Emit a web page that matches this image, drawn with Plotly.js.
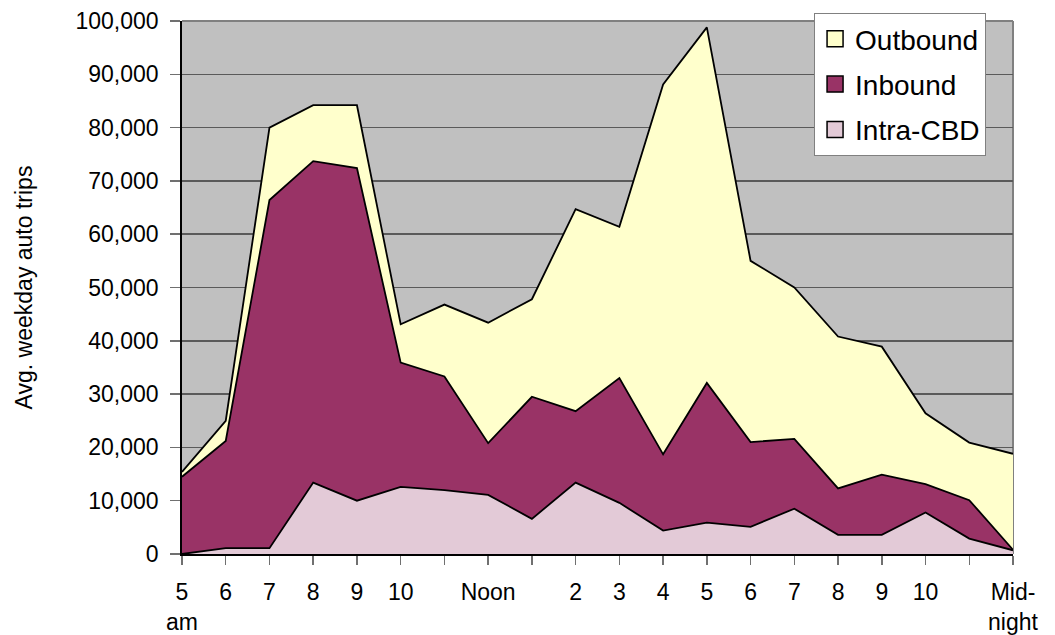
<!DOCTYPE html>
<html>
<head>
<meta charset="utf-8">
<script src="https://cdn.plot.ly/plotly-3.0.1.min.js"></script>
<style>
html,body{margin:0;padding:0;background:#fff;}
#chart{width:1055px;height:635px;}
</style>
</head>
<body>
<div id="chart"></div>
<script>
// Hour categories (5am .. midnight)
const hours = ['5am','6am','7am','8am','9am','10am','11am','12pm','1pm','2pm','3pm','4pm','5pm','6pm','7pm','8pm','9pm','10pm','11pm','12am'];
const tickLabels = ['5<br>am','6','7','8','9','10','','Noon','','2','3','4','5','6','7','8','9','10','','Mid-<br>night'];

// Average weekday auto trips by series (stacked)
const intraCBD = [0, 1100, 1100, 13400, 10000, 12600, 12000, 11100, 6600, 13400, 9600, 4400, 5900, 5100, 8500, 3600, 3600, 7800, 2900, 700];
const inbound  = [14500, 20100, 65300, 60300, 62400, 23300, 21300, 9700, 22900, 13400, 23400, 14300, 26200, 15900, 13100, 8700, 11300, 5300, 7200, 100];
const outbound = [900, 3800, 13600, 10500, 11800, 7200, 13500, 22600, 18300, 37900, 28400, 69400, 66700, 34000, 28400, 28500, 24000, 13300, 10800, 18000];

const seriesNames = ['Intra-CBD','Inbound','Outbound'];
const seriesColors = ['#E3CAD7','#993366','#FFFFCC'];
const legendRanks = [3, 2, 1];
const seriesData = [intraCBD, inbound, outbound];

const FONT = 'Liberation Sans, Arial, sans-serif';

const traces = [];
seriesData.forEach((vals, i) => {
  traces.push({
    type: 'scatter',
    mode: 'lines',
    x: hours,
    y: vals,
    name: seriesNames[i],
    stackgroup: 'one',
    fill: i === 0 ? 'tozeroy' : 'tonexty',
    fillcolor: seriesColors[i],
    line: {color: '#000000', width: 1.8},
    showlegend: false,
    hoverinfo: 'skip'
  });
});
// Legend entries with square swatches
seriesData.forEach((vals, i) => {
  traces.push({
    type: 'scatter',
    mode: 'markers',
    x: [null],
    y: [null],
    name: seriesNames[i],
    legendgroup: 'g' + i,
    legendrank: legendRanks[i],
    marker: {symbol: 'square', size: 18, color: seriesColors[i], line: {color: '#000', width: 1.5}},
    showlegend: true,
    hoverinfo: 'skip'
  });
});

const layout = {
  width: 1055,
  height: 635,
  margin: {l: 182, r: 42, t: 21, b: 81},
  paper_bgcolor: '#ffffff',
  plot_bgcolor: '#C0C0C0',
  font: {family: FONT, size: 23, color: '#000'},
  showlegend: true,
  legend: {
    x: 0.7606, xanchor: 'left',
    y: 1.015, yanchor: 'top',
    bgcolor: '#ffffff',
    bordercolor: '#808080',
    borderwidth: 1,
    font: {family: FONT, size: 28, color: '#000'},
    traceorder: 'grouped',
    tracegroupgap: 6
  },
  xaxis: {
    type: 'category',
    range: [0, hours.length - 1],
    tickmode: 'array',
    tickvals: hours,
    ticktext: tickLabels,
    ticks: 'outside',
    ticklen: 9,
    tickwidth: 1.5,
    tickcolor: '#707070',
    ticklabelstandoff: 8,
    showline: true,
    linecolor: '#000',
    linewidth: 1.8,
    showgrid: false,
    zeroline: false,
    tickangle: 0,
    tickfont: {family: FONT, size: 23, color: '#000'},
    fixedrange: true
  },
  yaxis: {
    range: [0, 100000],
    dtick: 10000,
    tick0: 0,
    tickformat: ',d',
    ticks: 'outside',
    ticklen: 10,
    tickwidth: 1.5,
    tickcolor: '#707070',
    ticklabelstandoff: 7,
    showline: true,
    linecolor: '#000',
    linewidth: 1.8,
    showgrid: true,
    gridcolor: '#5a5a5a',
    gridwidth: 1.5,
    zeroline: false,
    tickfont: {family: FONT, size: 23, color: '#000'},
    title: {text: 'Avg. weekday auto trips', font: {family: FONT, size: 23, color: '#000'}, standoff: 36},
    fixedrange: true
  },
  shapes: [
    {type: 'line', xref: 'paper', yref: 'paper', x0: 0, x1: 1, y0: 1, y1: 1, line: {color: '#808080', width: 2}, layer: 'below'},
    {type: 'line', xref: 'paper', yref: 'paper', x0: 1, x1: 1, y0: 0, y1: 1, line: {color: '#808080', width: 2}, layer: 'below'}
  ]
};

Plotly.newPlot('chart', traces, layout, {displayModeBar: false, staticPlot: true});
</script>
</body>
</html>
